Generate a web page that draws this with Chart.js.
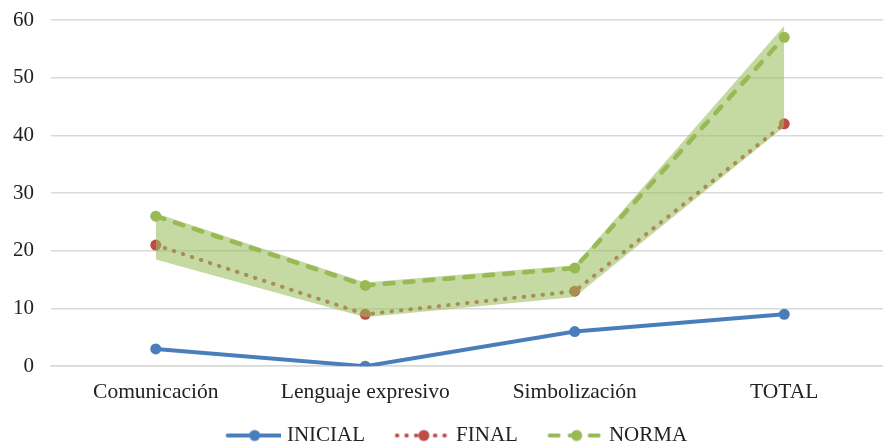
<!DOCTYPE html>
<html>
<head>
<meta charset="utf-8">
<script src="https://cdn.jsdelivr.net/npm/chart.js@4/dist/chart.umd.min.js"></script>
<style>
  html, body { margin: 0; padding: 0; background: #fff; overflow: hidden; }
  canvas { display: block; }
</style>
</head>
<body>
<canvas id="chart" width="896" height="444"></canvas>
<script>
const categories = ['Comunicación', 'Lenguaje expresivo', 'Simbolización', 'TOTAL'];
const inicial = [3, 0, 6, 9];
const final = [21, 9, 13, 42];
const norma = [26, 14, 17, 57];
// shaded green band (upper / lower edge)
const bandTop = [26.5, 14.5, 17.5, 59];
const bandBottom = [18.5, 8.5, 12, 41.5];
const yTicks = [0, 10, 20, 30, 40, 50, 60];

const BLUE = '#4A7EBB';
const RED = '#BE4B48';
const GREEN = '#98B954';
const FONT = "'Liberation Serif', 'Times New Roman', serif";

// legend swatch: line segment with a marker, with some empty room on the left
const ICON_W = 88.5;
const ICON_BOX = 78.5;
function legendIcon(color, dash) {
    const c = document.createElement('canvas');
    c.width = ICON_W;
    c.height = 14;
    const ctx = c.getContext('2d');
    ctx.strokeStyle = color;
    ctx.lineWidth = 4;
    ctx.lineCap = 'round';
    ctx.setLineDash(dash);
    ctx.beginPath();
    ctx.moveTo(34.5, 7);
    ctx.lineTo(88, 7);
    ctx.stroke();
    ctx.fillStyle = color;
    ctx.beginPath();
    ctx.arc(61.5, 7, 5.5, 0, Math.PI * 2);
    ctx.fill();
    return c;
}

const icons = [
    legendIcon(BLUE, []),
    legendIcon(RED, [0.5, 9]),
    legendIcon(GREEN, [9, 11])
];

new Chart(document.getElementById('chart'), {
    type: 'line',
    data: {
        labels: categories,
        datasets: [
            {
                label: 'INICIAL',
                data: inicial,
                borderColor: BLUE,
                backgroundColor: BLUE,
                borderWidth: 4,
                pointRadius: 5.5,
                pointBorderWidth: 0,
                tension: 0,
                order: 3
            },
            {
                label: 'FINAL',
                data: final,
                borderColor: RED,
                backgroundColor: RED,
                borderWidth: 4,
                borderDash: [0.5, 9],
                borderCapStyle: 'round',
                pointRadius: 5.5,
                pointBorderWidth: 0,
                tension: 0,
                order: 2
            },
            {
                label: 'NORMA',
                data: norma,
                borderColor: GREEN,
                backgroundColor: GREEN,
                borderWidth: 4.5,
                borderDash: [9, 11],
                borderCapStyle: 'round',
                pointRadius: 5.5,
                pointBorderWidth: 0,
                tension: 0,
                order: 0
            },
            {
                label: 'bandTop',
                data: bandTop,
                borderWidth: 0,
                borderColor: 'rgba(0,0,0,0)',
                pointRadius: 0,
                fill: '+1',
                backgroundColor: 'rgba(155,190,95,0.58)',
                tension: 0,
                order: 1
            },
            {
                label: 'bandBottom',
                data: bandBottom,
                borderWidth: 0,
                borderColor: 'rgba(0,0,0,0)',
                pointRadius: 0,
                fill: false,
                tension: 0,
                order: 1
            }
        ]
    },
    options: {
        responsive: false,
        animation: false,
        layout: { padding: { left: -4, right: 7, top: 20, bottom: -12 } },
        plugins: {
            tooltip: { enabled: false },
            legend: {
                position: 'bottom',
                labels: {
                    font: { family: FONT, size: 21 },
                    color: '#222',
                    padding: 2,
                    usePointStyle: true,
                    pointStyleWidth: ICON_BOX,
                    generateLabels: chart => chart.data.datasets.slice(0, 3).map((ds, i) => ({
                        text: ds.label,
                        pointStyle: icons[i],
                        fillStyle: ds.borderColor,
                        strokeStyle: ds.borderColor,
                        lineWidth: 0,
                        fontColor: '#222',
                        datasetIndex: i
                    }))
                }
            }
        },
        scales: {
            x: {
                offset: true,
                grid: { display: false },
                border: { display: true, color: '#d9d9d9', width: 1.5 },
                ticks: {
                    font: { family: FONT, size: 21.5 },
                    color: '#222',
                    padding: 5,
                    maxRotation: 0
                },
                afterFit: axis => { axis.height += 13; }
            },
            y: {
                min: 0,
                max: 60,
                afterBuildTicks: axis => { axis.ticks = yTicks.map(v => ({ value: v })); },
                // tick padding would otherwise be added above the top gridline
                afterFit: axis => { axis.paddingTop = 10; axis.paddingBottom = 10; },
                grid: { color: '#d9d9d9', lineWidth: 1.5, drawTicks: false },
                border: { display: false },
                ticks: {
                    font: { family: FONT, size: 21 },
                    color: '#222',
                    padding: 17
                }
            }
        }
    }
});
</script>
</body>
</html>
